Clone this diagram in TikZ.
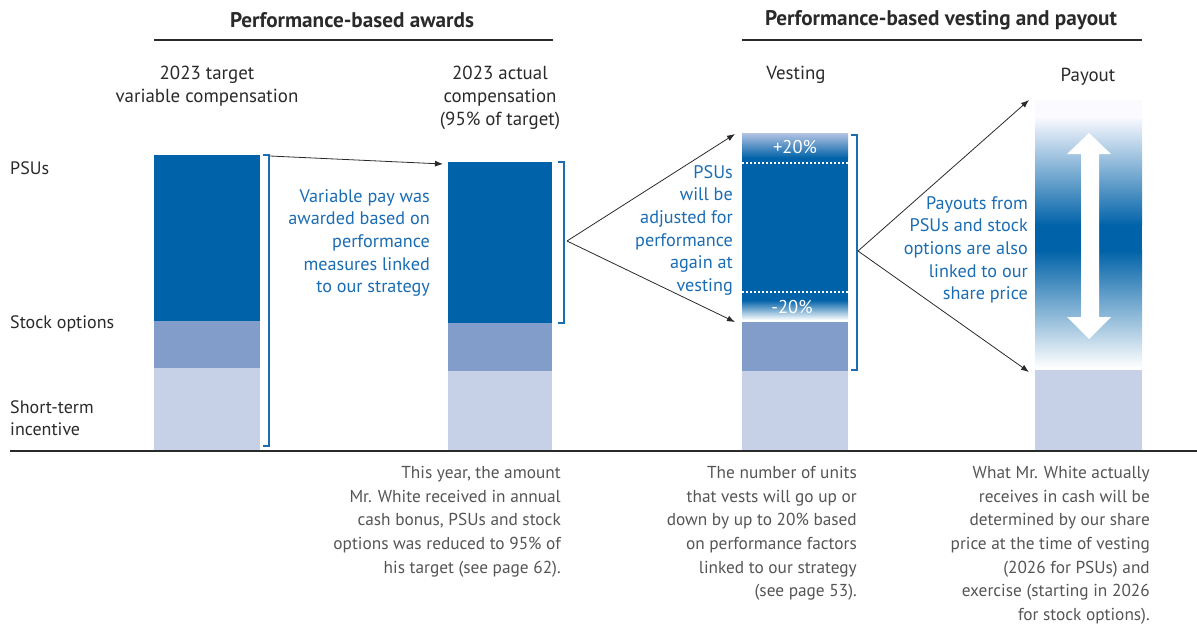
\documentclass[tikz,border=0pt]{standalone}
\usepackage{fontspec}
\setmainfont{PT Sans}
\usetikzlibrary{arrows.meta}
\definecolor{dblue}{HTML}{0062A8}
\definecolor{mblue}{HTML}{829DCA}
\definecolor{lblue}{HTML}{C6D1E8}
\definecolor{tblue}{HTML}{1A6CB3}
\definecolor{vtop}{HTML}{B3C3E3}
\definecolor{ink}{HTML}{2A2A2A}
\definecolor{gtext}{HTML}{555555}
\begin{document}
\begin{tikzpicture}[x=1pt,y=-1pt,
  txt/.style={inner sep=0pt,font=\fontsize{18}{22.7}\selectfont,text=ink},
  ctxt/.style={inner sep=0pt,font=\fontsize{18.9}{23}\selectfont,text=ink},
  btxt/.style={inner sep=0pt,font=\fontsize{18.2}{22.7}\selectfont,text=tblue,align=right,anchor=north east},
  gtxt/.style={inner sep=0pt,font=\fontsize{17.3}{23.7}\selectfont,text=gtext,align=right,anchor=north east},
  head/.style={inner sep=0pt,font=\fontsize{21.2}{24}\selectfont\bfseries,text=ink},
  rule/.style={line width=2.2pt,draw=ink},
  brk/.style={line width=2.2pt,draw=tblue},
  conn/.style={line width=0.8pt,draw=ink,-{Latex[length=8pt,width=6pt]}},
  wtxt/.style={inner sep=0pt,font=\fontsize{18.5}{22}\selectfont,text=white}]
\useasboundingbox (0,0) rectangle (1197,625);

% headings
\node[head] (h1) at (352,20) {Performance-based awards};
\node[head] (h2) at (941,20) {Performance-based vesting and payout};
\draw[rule] (154,40) -- (553,40);
\draw[rule] (742,40) -- (1142,40);

% column labels
\node[ctxt,align=center,anchor=north] (l1) at (207,66) {2023 target\\variable compensation};
\node[ctxt,align=center,anchor=north] (l2) at (500,66) {2023 actual\\compensation\\(95\% of target)};
\node[ctxt] (l3) at (796,75) {Vesting};
\node[ctxt] (l4) at (1088,77) {Payout};

% row labels
\node[txt,anchor=west] (r1) at (10,168) {PSUs};
\node[txt,anchor=west] (r2) at (10,324) {Stock options};
\node[txt,align=left,anchor=north west] (r3) at (10,400) {Short-term\\incentive};

% bar 1
\fill[dblue] (154,155) rectangle (260,321);
\fill[mblue] (154,321) rectangle (260,368);
\fill[lblue] (154,368) rectangle (260,451);
% bar 2
\fill[dblue] (448,162) rectangle (552,323);
\fill[mblue] (448,323) rectangle (552,371);
\fill[lblue] (448,371) rectangle (552,451);
% bar 3 vesting
\shade[top color=vtop,bottom color=dblue] (742,133) rectangle (848,158);
\fill[dblue] (742,157.5) rectangle (848,300.5);
\shade[top color=dblue,bottom color=white] (742,300) rectangle (848,320);
\fill[mblue] (742,322) rectangle (848,371);
\fill[lblue] (742,371) rectangle (848,451);
\draw[white,line width=2pt,dotted] (742,163) -- (848,163);
\draw[white,line width=2pt,dotted] (742,292) -- (848,292);
\node[wtxt] (p20) at (795,147) {+20\%};
\node[wtxt] (m20) at (792,307) {-20\%};
% bar 4 payout
\fill[blue!2] (1035,100) rectangle (1142,117.5);
\shade[top color=blue!2,bottom color=dblue] (1035,117) rectangle (1142,225.5);
\fill[dblue] (1035,225) rectangle (1142,250.5);
\shade[top color=dblue,bottom color=white] (1035,250) rectangle (1142,368);
\fill[lblue] (1035,370) rectangle (1142,451);
\fill[white] (1089,133) -- (1111,154) -- (1099,154) -- (1099,317) -- (1111,317)
  -- (1089,339) -- (1067,317) -- (1081,317) -- (1081,154) -- (1067,154) -- cycle;

% baseline
\draw[rule] (10,451) -- (1197,451);

% brackets
\draw[brk] (263,155) -- (269,155) -- (269,446) -- (263,446);
\draw[brk] (558,162) -- (564,162) -- (564,323) -- (558,323);
\draw[brk] (851,135) -- (857,135) -- (857,370) -- (851,370);

% connector coordinates
\coordinate (b1top) at (270,156);
\coordinate (bar2tl) at (443,164);
\coordinate (b2mid) at (567,241);
\coordinate (v3top) at (735,134);
\coordinate (v3bot) at (735,322);
\coordinate (b3mid) at (858,251);
\coordinate (p4top) at (1029,100);
\coordinate (p4bot) at (1029,372);
\draw[conn] (b1top) -- (bar2tl);
\draw[conn] (b2mid) -- (v3top);
\draw[conn] (b2mid) -- (v3bot);
\draw[conn] (b3mid) -- (p4top);
\draw[conn] (b3mid) -- (p4bot);

% blue texts
\node[btxt] (t1) at (430,189) {Variable pay was\\awarded based on\\performance\\measures linked\\to our strategy};
\node[btxt] (t2) at (733,165) {PSUs\\will be\\adjusted for\\performance\\again at\\vesting};
\node[btxt] (t3) at (1028,196) {Payouts from\\PSUs and stock\\options are also\\linked to our\\share price};

% bottom texts
\node[gtxt] (g1) at (561,466) {This year, the amount\\Mr. White received in annual\\cash bonus, PSUs and stock\\options was reduced to 95\% of\\his target (see page 62).};
\node[gtxt] (g2) at (857,466) {The number of units\\that vests will go up or\\down by up to 20\% based\\on performance factors\\linked to our strategy\\(see page 53).};
\node[gtxt] (g3) at (1150,466) {What Mr. White actually\\receives in cash will be\\determined by our share\\price at the time of vesting\\(2026 for PSUs) and\\exercise (starting in 2026\\for stock options).};
\end{tikzpicture}
\end{document}
